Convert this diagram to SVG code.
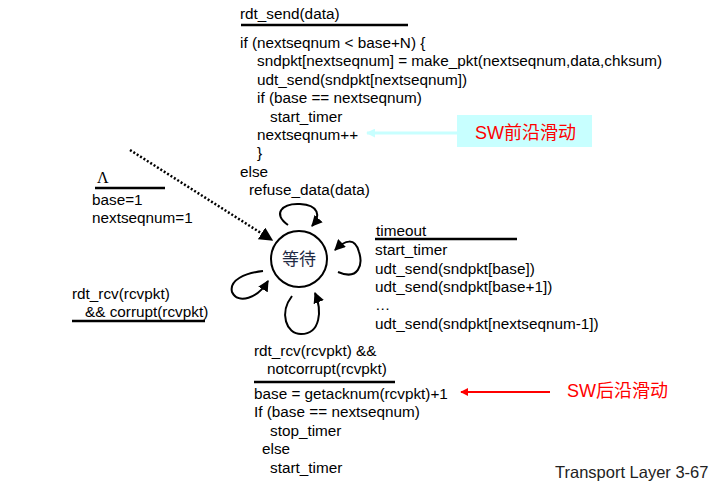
<svg xmlns="http://www.w3.org/2000/svg" width="722" height="486" viewBox="0 0 722 486">
<defs>
<style>
.t{font-family:"Liberation Sans",Arial,sans-serif;font-size:15.3px;fill:#000}
.r{font-family:"Liberation Sans","Noto Sans CJK SC",sans-serif;font-size:18px;fill:#ff0000}
.ul{stroke:#000;stroke-width:2.5}
.loop{fill:none;stroke:#000;stroke-width:2}
</style>
<marker id="ah" viewBox="0 0 10 10" refX="9" refY="5" markerWidth="5.5" markerHeight="5.5" orient="auto"><path d="M0,0 L10,5 L0,10 z" fill="#000"/></marker>
<marker id="ahr" viewBox="0 0 10 10" refX="9" refY="5" markerWidth="4" markerHeight="4" orient="auto"><path d="M0,0 L10,5 L0,10 z" fill="#ff0000"/></marker>
<marker id="ahc" viewBox="0 0 10 10" refX="9" refY="5" markerWidth="3" markerHeight="3" orient="auto"><path d="M0,0 L10,5 L0,10 z" fill="#c8ffff"/></marker>
</defs>
<rect width="722" height="486" fill="#fff"/>

<g id="state-wait">
<circle cx="299" cy="259" r="28" fill="#fff" stroke="#000" stroke-width="2"/>
<text x="299" y="265" text-anchor="middle" style="font-family:'Noto Sans CJK SC',sans-serif;font-size:17px;fill:#1f2a44">等待</text>
</g>

<g id="connectors">
<line x1="130" y1="150" x2="272" y2="240" stroke="#000" stroke-width="2.5" stroke-dasharray="2,2" marker-end="url(#ah)"/>
<path class="loop" d="M288,225 C272,214 282,203 300,204 C319,205 321,216 312,226" marker-end="url(#ah)"/>
<path class="loop" d="M338,272 C359,281 363,264 359,252 C355,237 345,240 335,250" marker-end="url(#ah)"/>
<path class="loop" d="M292,296 C279,313 286,334 301,334 C321,334 322,310 315,293" marker-end="url(#ah)"/>
<path class="loop" d="M263,271 C245,273 229,280 232,292 C238,305 258,298 268,281" marker-end="url(#ah)"/>
<line x1="457" y1="133" x2="367" y2="133" stroke="#c8ffff" stroke-width="3" marker-end="url(#ahc)"/>
<line x1="550" y1="392" x2="461" y2="392" stroke="#ff0000" stroke-width="2" marker-end="url(#ahr)"/>
</g>

<g id="label-send">
<text class="t" x="240" y="19">rdt_send(data)</text>
<line class="ul" x1="241" y1="25" x2="408" y2="25"/>
<text class="t" x="240" y="48">if (nextseqnum &lt; base+N) {</text>
<text class="t" x="257" y="66">sndpkt[nextseqnum] = make_pkt(nextseqnum,data,chksum)</text>
<text class="t" x="257" y="85">udt_send(sndpkt[nextseqnum])</text>
<text class="t" x="257" y="103">if (base == nextseqnum)</text>
<text class="t" x="270" y="122">start_timer</text>
<text class="t" x="257" y="140">nextseqnum++</text>
<text class="t" x="257" y="158">}</text>
<text class="t" x="240" y="177">else</text>
<text class="t" x="249" y="195">refuse_data(data)</text>
</g>

<g id="note-front">
<rect x="457" y="115" width="135" height="32" fill="#c8ffff"/>
<text class="r" x="475" y="139">SW前沿滑动</text>
</g>

<g id="label-init">
<text x="97" y="183" style="font-family:'Liberation Serif',serif;font-size:16px;fill:#000">Λ</text>
<line class="ul" x1="95" y1="188" x2="165" y2="188"/>
<text class="t" x="92" y="205">base=1</text>
<text class="t" x="92" y="223">nextseqnum=1</text>
</g>

<g id="label-timeout">
<text class="t" x="376" y="236">timeout</text>
<line class="ul" x1="375" y1="239" x2="517" y2="239"/>
<text class="t" x="375" y="255">start_timer</text>
<text class="t" x="375" y="274">udt_send(sndpkt[base])</text>
<text class="t" x="375" y="292">udt_send(sndpkt[base+1])</text>
<text class="t" x="375" y="310">…</text>
<text class="t" x="375" y="329">udt_send(sndpkt[nextseqnum-1])</text>
</g>

<g id="label-corrupt">
<text class="t" x="72" y="299">rdt_rcv(rcvpkt)</text>
<text class="t" x="85" y="317">&amp;&amp; corrupt(rcvpkt)</text>
<line class="ul" x1="72" y1="321" x2="205" y2="321"/>
</g>

<g id="label-ack">
<text class="t" x="254" y="356">rdt_rcv(rcvpkt) &amp;&amp;</text>
<text class="t" x="267" y="374">notcorrupt(rcvpkt)</text>
<line class="ul" x1="254" y1="382" x2="395" y2="382"/>
<text class="t" x="254" y="399">base = getacknum(rcvpkt)+1</text>
<text class="t" x="254" y="417">If (base == nextseqnum)</text>
<text class="t" x="270" y="436">stop_timer</text>
<text class="t" x="262" y="454">else</text>
<text class="t" x="270" y="473">start_timer</text>
</g>

<g id="note-back">
<text class="r" x="567" y="397">SW后沿滑动</text>
</g>

<text x="555" y="478" style="font-family:'Liberation Sans',sans-serif;font-size:16.5px;fill:#222">Transport Layer 3-67</text>
</svg>
